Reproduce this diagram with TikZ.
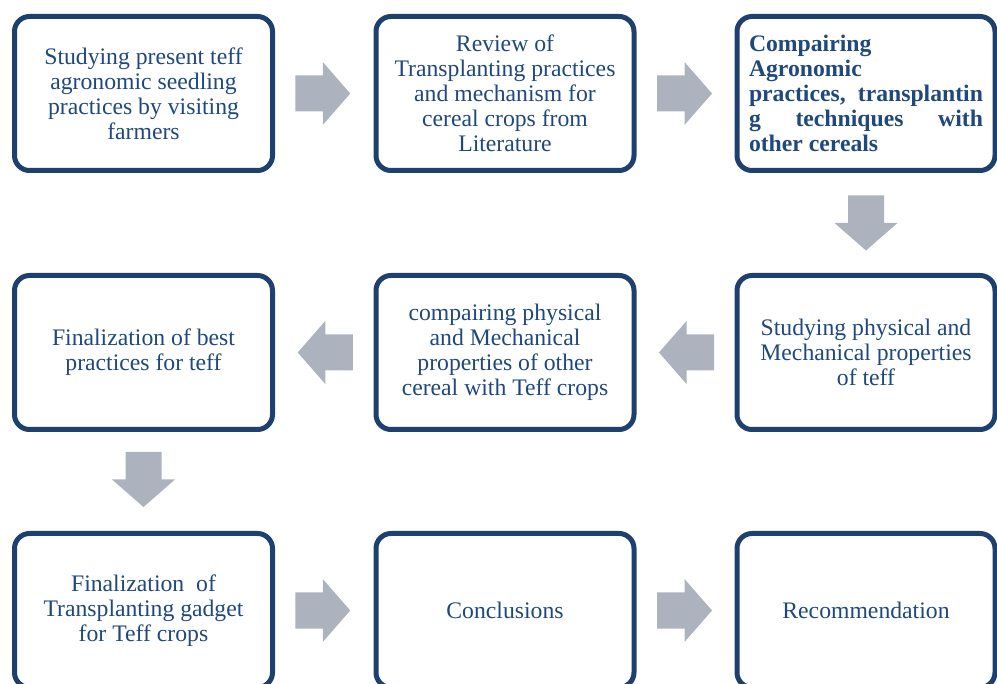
\documentclass[tikz,border=0pt]{standalone}
\usepackage{fontspec}
\setmainfont{Liberation Serif}
\usetikzlibrary{calc}
\definecolor{boxblue}{RGB}{30,64,110}
\definecolor{textblue}{RGB}{31,73,125}
\definecolor{arrowgray}{RGB}{173,178,191}
\tikzset{
  stepbox/.style={draw=boxblue, line width=5pt, rounded corners=15pt, fill=white,
    minimum width=258pt, minimum height=154pt, inner sep=0pt, outer sep=0pt,
    text=textblue, align=center, font={\fontsize{23.7}{25}\selectfont}},
  blockarrow/.pic={\fill[arrowgray] (-27.5,-18) -- (0,-18) -- (0,-31.5) -- (27.5,0)
    -- (0,31.5) -- (0,18) -- (-27.5,18) -- cycle;}
}
\begin{document}
\begin{tikzpicture}[x=1pt,y=-1pt]
\useasboundingbox (0,0) rectangle (997,684);
% row 1
\node[stepbox] (a1) at (143.5,93.5) {Studying present teff\\agronomic seedling\\practices by visiting\\farmers};
\node[stepbox] (a2) at (505,93.5) {Review of\\Transplanting practices\\and mechanism for\\cereal crops from\\Literature};
\node[stepbox, align=left, font={\fontsize{23.7}{25}\selectfont\bfseries}] (a3) at (866,93.5)
  {Compairing\\Agronomic\\\makebox[234pt][s]{practices, transplantin}\\\makebox[234pt][s]{g techniques with}\\other cereals};
% row 2
\node[stepbox] (b3) at (866,352.5) {Studying physical and\\Mechanical properties\\of teff};
\node[stepbox] (b2) at (505,352.5) {compairing physical\\and Mechanical\\properties of other\\cereal with Teff crops};
\node[stepbox] (b1) at (143.5,352.5) {Finalization of best\\practices for teff};
% row 3
\node[stepbox] (c1) at (143.5,610.5) {Finalization~~of\\Transplanting gadget\\for Teff crops};
\node[stepbox] (c2) at (505,610.5) {Conclusions};
\node[stepbox] (c3) at (866,610.5) {Recommendation};
% arrows
\coordinate (m12) at ($(a1.east)!0.5!(a2.west)+(-1.5,0)$);
\coordinate (m23) at ($(a2.east)!0.5!(a3.west)+(-1,0)$);
\coordinate (m3d) at ($(a3.south)!0.5!(b3.north)$);
\coordinate (mb32) at ($(b3.west)!0.5!(b2.east)+(1,0)$);
\coordinate (mb21) at ($(b2.west)!0.5!(b1.east)+(1,0)$);
\coordinate (m1d) at ($(b1.south)!0.5!(c1.north)+(0,-2)$);
\coordinate (mc12) at ($(c1.east)!0.5!(c2.west)+(-1.5,0)$);
\coordinate (mc23) at ($(c2.east)!0.5!(c3.west)+(-1,0)$);
\pic at (m12) {blockarrow};
\pic at (m23) {blockarrow};
\pic[rotate=-90] at (m3d) {blockarrow};
\pic[rotate=180] at (mb32) {blockarrow};
\pic[rotate=180] at (mb21) {blockarrow};
\pic[rotate=-90] at (m1d) {blockarrow};
\pic at (mc12) {blockarrow};
\pic at (mc23) {blockarrow};
\end{tikzpicture}
\end{document}
